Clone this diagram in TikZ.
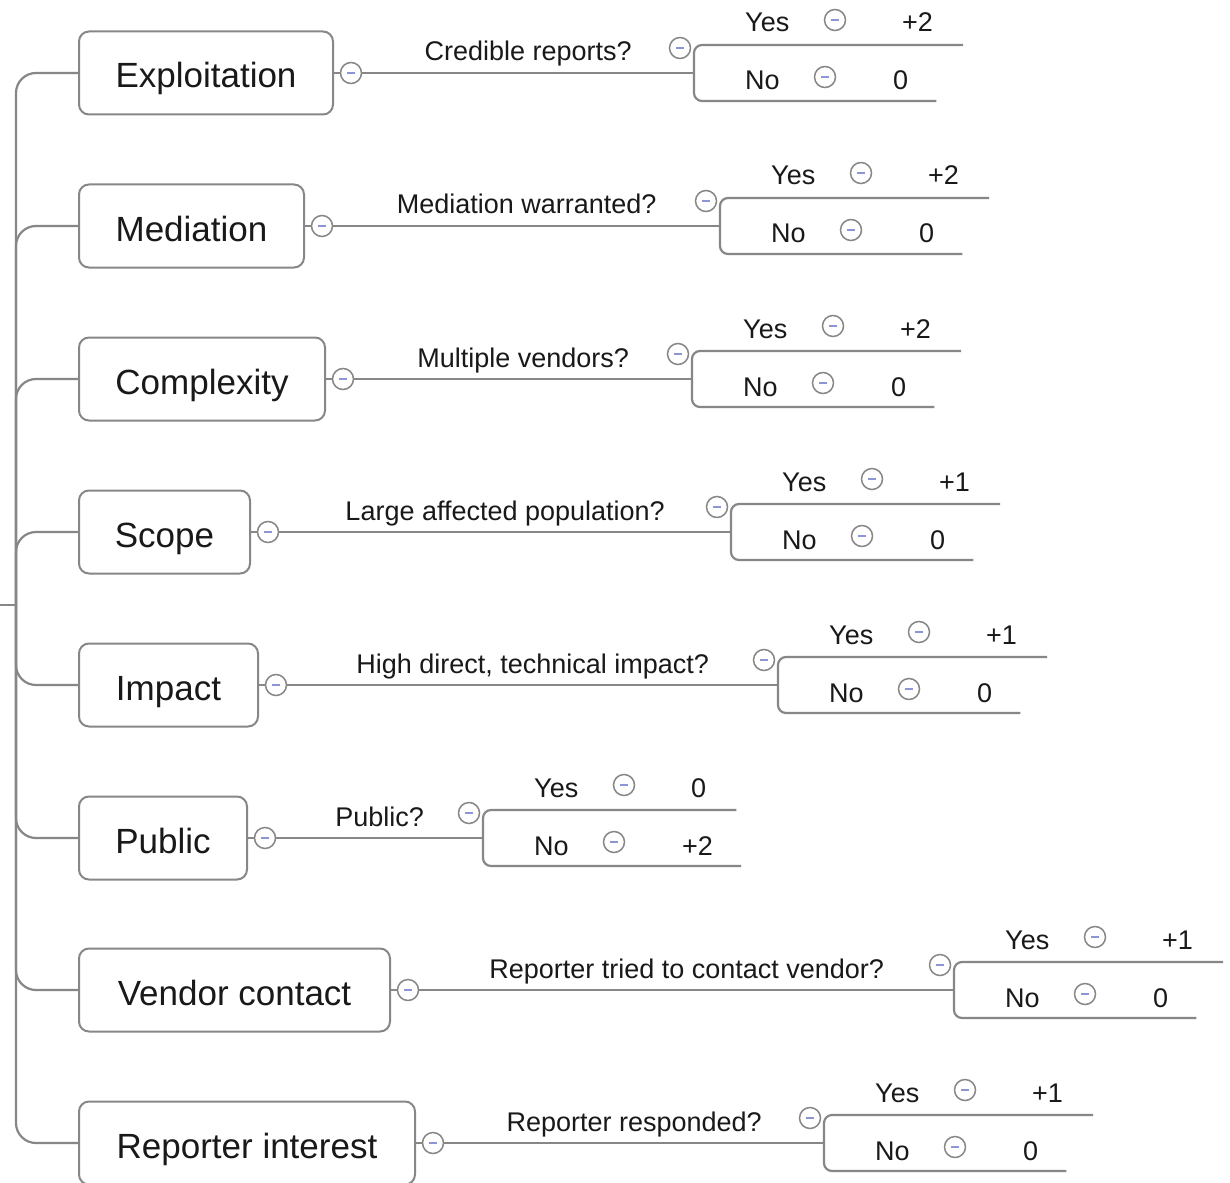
\documentclass[tikz,border=0pt]{standalone}
\usepackage{fontspec}
\setmainfont{Liberation Sans}
\definecolor{linegray}{RGB}{135,135,135}
\definecolor{minusblue}{RGB}{140,150,215}
\definecolor{inkgray}{RGB}{25,25,25}
\begin{document}
\begin{tikzpicture}[x=1pt, y=-1pt,
    branch/.style={draw=linegray, line width=2.2pt},
    catbox/.style={draw=linegray, line width=2pt, rounded corners=10pt, minimum height=83pt,
        anchor=west, inner sep=0pt, text height=30pt, text depth=0pt,
        text=inkgray, font=\fontsize{35}{42}\selectfont},
    toggle/.style={circle, draw=linegray, fill=white, line width=1.5pt, minimum size=21pt, inner sep=0pt,
        path picture={\draw[minusblue, line width=1.5pt]
            ([xshift=-4pt]path picture bounding box.center) -- ([xshift=4pt]path picture bounding box.center);}},
    lbl/.style={text=inkgray, font=\fontsize{27}{32}\selectfont, inner sep=0pt}]
    % 1. Page frame
    \path[use as bounding box, fill=white] (0,0) rectangle (1230,1182);

    % 2. Root stub
    \coordinate (stub) at (0,605);
    \coordinate (root) at (16,605);
    \draw[branch] (stub) -- (root);

    % 3. One row per factor: box, question, Yes/No fork
    \foreach \n/\Y/\R/\B/\cat/\q/\vy/\vn in {
        1/73/332/694/Exploitation/Credible reports?/+2/0,
        2/226/303/720/Mediation/Mediation warranted?/+2/0,
        3/379/324/692/Complexity/Multiple vendors?/+2/0,
        4/532/249/731/Scope/Large affected population?/+1/0,
        5/685/257/778/Impact/{High direct, technical impact?}/+1/0,
        6/838/246/483/Public/Public?/0/+2,
        7/990/389/954/Vendor contact/Reporter tried to contact vendor?/+1/0,
        8/1143/414/824/Reporter interest/Reporter responded?/+1/0}
    {
        \node[catbox, minimum width=\R-78] (cat\n) at (78,\Y) {\cat};
        \draw[branch, rounded corners=20pt] (root) |- (cat\n.west);
        \node[toggle] (tog\n) at (\R+19,\Y) {};
        \coordinate (br\n) at (\B,\Y);
        \draw[branch] (cat\n.east) -- (tog\n);
        \draw[branch] (tog\n) -- (br\n) node[midway, lbl, anchor=base, yshift=12pt] {\q};
        \node[toggle] (qt\n) at (\B-14,\Y-25) {};

        % Yes / No answers
        \node[lbl, anchor=base west] (yes\n) at (\B+51,\Y-41) {Yes};
        \node[toggle] (yt\n) at (\B+141,\Y-53) {};
        \node[lbl, anchor=base west] (yv\n) at (\B+208,\Y-41) {\vy};
        \node[lbl, anchor=base west] (no\n) at (\B+51,\Y+17) {No};
        \node[toggle] (nt\n) at (\B+131,\Y+4) {};
        \node[lbl, anchor=base west] (nv\n) at (\B+199,\Y+17) {\vn};

        % fork lines
        \coordinate (top\n) at (\B,\Y-28);
        \coordinate (bot\n) at (\B,\Y+28);
        \path (yv\n.east) ++(30,0) coordinate (ye\n);
        \path (nv\n.east) ++(28,0) coordinate (ne\n);
        \draw[branch, rounded corners=8pt] (ye\n |- top\n) -- (top\n) -- (bot\n) -- (ne\n |- bot\n);
    }
\end{tikzpicture}
\end{document}
